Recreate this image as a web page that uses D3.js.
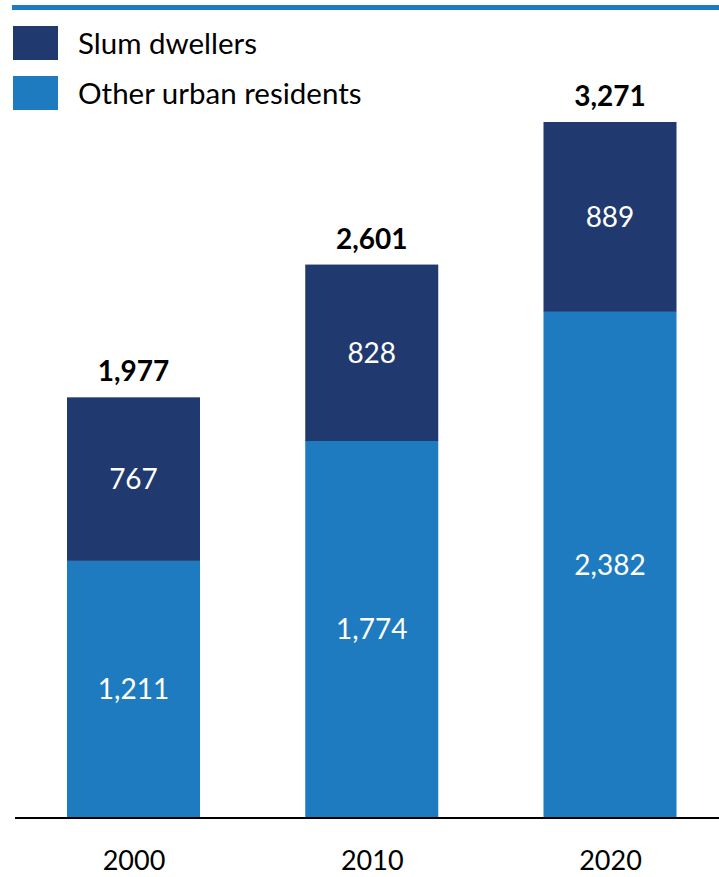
<!DOCTYPE html>
<html><head><meta charset="utf-8">
<script src="https://cdn.jsdelivr.net/npm/d3@7"></script>
<style>body{margin:0;background:#fff}svg{display:block}text{font-family:Lato,"Open Sans",sans-serif}</style>
</head><body>
<svg id="c" width="719" height="877"></svg>
<script>
const years = ["2000","2010","2020"];
const otherResidents = [1211, 1774, 2382];
const slumDwellers = [767, 828, 889];
const totals = [1977, 2601, 3271];
const seriesNames = ["Slum dwellers","Other urban residents"];
const colors = {slum:"#203a6f", other:"#1f7bc0"};

const svg = d3.select("#c");
const W = 719;
const baseY = 818;
const bx = d3.scalePoint().domain(years).range([133.5, 610]);
const bw = 133;
const y = d3.scaleLinear().domain([0, 3271]).range([baseY, 122]);
const fmt = d3.format(",");

// top rule
svg.append("rect").attr("x",12).attr("y",5).attr("width",W-12).attr("height",5).attr("fill",colors.other);

// legend
const leg = [{n:seriesNames[0],c:colors.slum,y:26},{n:seriesNames[1],c:colors.other,y:76}];
leg.forEach(l=>{
  svg.append("rect").attr("x",13).attr("y",l.y).attr("width",45).attr("height",34).attr("fill",l.c);
  svg.append("text").attr("x",78).attr("y",l.y+17).attr("dy","0.36em").attr("font-size",29.5).attr("fill","#000").text(l.n);
});

const g = svg.append("g");
years.forEach((yr,i)=>{
  const cx = bx(yr), left = cx - bw/2;
  const o = otherResidents[i], s = slumDwellers[i];
  const topOther = y(o);
  const topAll = y(totals[i]);
  g.append("rect").attr("x",left).attr("y",topOther).attr("width",bw).attr("height",baseY-topOther).attr("fill",colors.other);
  g.append("rect").attr("x",left).attr("y",topAll).attr("width",bw).attr("height",topOther-topAll+0.5).attr("fill",colors.slum);
  g.append("text").attr("x",cx).attr("y",(topOther+baseY)/2).attr("dy","0.36em").attr("text-anchor","middle").attr("font-size",28).attr("fill","#fff").text(fmt(o));
  g.append("text").attr("x",cx).attr("y",(topAll+topOther)/2).attr("dy","0.36em").attr("text-anchor","middle").attr("font-size",28).attr("fill","#fff").text(fmt(s));
  g.append("text").attr("x",cx).attr("y",topAll-26).attr("dy","0.36em").attr("text-anchor","middle").attr("font-size",28).attr("font-weight","bold").attr("fill","#000").text(fmt(totals[i]));
});

// axis
const axis = d3.axisBottom(bx).tickSize(0).tickPadding(33);
const ag = svg.append("g").attr("transform",`translate(0,${baseY})`).call(axis);
ag.select(".domain").remove();
ag.selectAll("text").attr("font-size",27).attr("fill","#000").attr("font-family","Lato,'Open Sans',sans-serif");
svg.append("line").attr("x1",15).attr("x2",W).attr("y1",baseY).attr("y2",baseY).attr("stroke","#000").attr("stroke-width",2);
</script>
</body></html>
